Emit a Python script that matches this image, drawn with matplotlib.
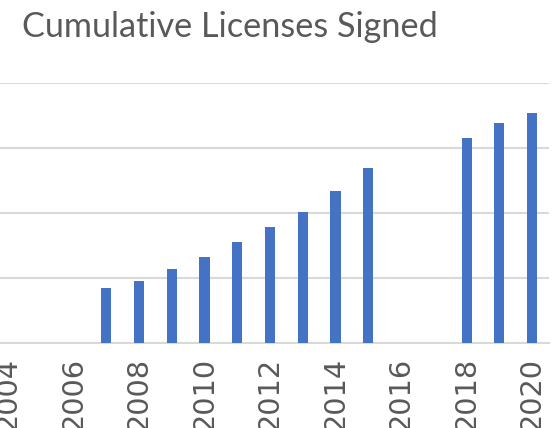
import matplotlib
matplotlib.use("Agg")
import matplotlib.pyplot as plt

# cumulative licences per year (gaps in 2016/2017 are missing years)
years = [2007, 2008, 2009, 2010, 2011, 2012, 2013, 2014, 2015, 2018, 2019, 2020]
licenses = [42, 48, 57, 66, 78, 89, 101, 117, 135, 158, 169, 177]
tick_years = list(range(2004, 2021, 2))
y_grid = [0, 50, 100, 150, 200]

W, H = 553, 428
fig = plt.figure(figsize=(W / 100, H / 100), dpi=100)

# plot area in pixel coordinates (part of the original chart is cropped away)
left_px, right_px, top_px, bottom_px = -8.4, 548.5, 83, 343
ax = fig.add_axes([left_px / W, 1 - bottom_px / H,
                   (right_px - left_px) / W, (bottom_px - top_px) / H])

ax.bar(years, licenses, width=0.31, color="#4472C4", zorder=3)

ax.set_xlim(2003.5, 2020.5)
ax.set_ylim(0, 200)
ax.set_yticks(y_grid)
ax.yaxis.grid(True, color="#d9d9d9", linewidth=1.5, zorder=0)
ax.tick_params(axis="y", left=False, labelleft=False)

ax.set_xticks(tick_years)
ax.set_xticklabels([str(y) for y in tick_years], rotation=90, fontsize=20.7,
                   color="#595959", family="DejaVu Sans", va="top")
ax.tick_params(axis="x", length=0, pad=10)

for s in ["top", "right", "left"]:
    ax.spines[s].set_visible(False)
ax.spines["bottom"].set_color("#d9d9d9")
ax.spines["bottom"].set_linewidth(1.5)

fig.text(22 / W, 1 - 37 / H, "Cumulative Licenses Signed", fontsize=24.7,
         color="#595959", family="Lato", va="baseline", ha="left")

fig.savefig("out.png", dpi=100)
